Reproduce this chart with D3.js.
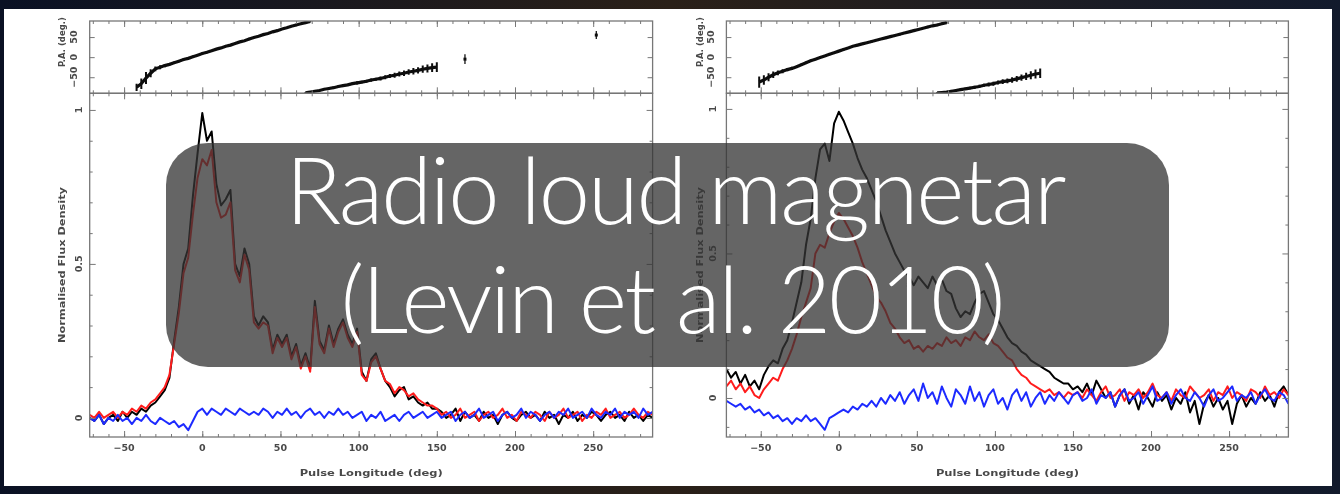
<!DOCTYPE html>
<html>
<head>
<meta charset="utf-8">
<script src="https://cdn.jsdelivr.net/npm/d3@7"></script>
<style>
  html, body { margin: 0; padding: 0; background: #0c1224; }
  svg { display: block; }
</style>
</head>
<body>
<svg id="chart" width="1340" height="494"></svg>
<script>
/* Two pulse profiles (I / L / V) with position-angle swings, plus a slide caption on top */

// longitude bins, every 3 deg from -72 to 288
const lonBins = d3.range(-72, 289, 3);

// left figure: total intensity, linear, circular (normalised)
const leftI = [0.00,-0.01,0.01,-0.02,0.00,0.01,-0.01,0.02,0.00,0.02,0.01,0.03,0.02,0.04,0.05,0.07,0.09,0.13,0.25,0.36,
  0.50,0.55,0.72,0.86,0.99,0.90,0.93,0.76,0.69,0.71,0.74,0.50,0.46,0.55,0.50,0.33,0.30,0.33,0.31,0.22,
  0.27,0.24,0.27,0.20,0.24,0.17,0.21,0.16,0.38,0.25,0.22,0.30,0.24,0.29,0.32,0.27,0.24,0.29,0.15,0.12,
  0.19,0.21,0.16,0.12,0.10,0.07,0.09,0.10,0.06,0.07,0.05,0.04,0.05,0.03,0.03,
  0.02,0.00,0.01,0.03,-0.01,0.02,0.00,0.01,-0.01,0.02,0.00,0.01,-0.02,0.01,0.02,0.00,-0.01,0.01,0.02,0.00,
  0.01,-0.01,0.02,0.00,0.01,-0.02,0.01,0.00,0.02,-0.01,0.01,0.00,0.02,0.01,-0.01,0.01,0.02,0.00,0.01,-0.01,
  0.02,0.00,0.01,-0.01,0.01,0.00];
const leftL = [0.01,0.00,0.02,0.00,0.01,0.02,0.00,0.02,0.01,0.03,0.02,0.04,0.03,0.05,0.06,0.08,0.10,0.14,0.24,0.34,
  0.47,0.52,0.66,0.78,0.84,0.82,0.87,0.70,0.65,0.66,0.70,0.48,0.44,0.53,0.48,0.31,0.29,0.31,0.30,0.21,
  0.26,0.23,0.26,0.19,0.23,0.16,0.20,0.15,0.36,0.24,0.21,0.29,0.23,0.28,0.31,0.26,0.23,0.28,0.14,0.12,
  0.18,0.20,0.16,0.12,0.11,0.08,0.10,0.09,0.07,0.08,0.06,0.05,0.04,0.04,0.03,
  0.01,0.02,0.00,0.01,0.03,0.00,0.01,0.02,-0.01,0.01,0.02,0.00,0.01,0.03,0.00,0.01,-0.01,0.02,0.01,0.00,
  0.02,0.01,-0.01,0.02,0.00,0.01,0.03,0.00,0.01,0.02,-0.01,0.01,0.00,0.02,0.01,0.03,0.00,0.01,0.02,0.00,
  0.01,0.03,0.01,0.00,0.02,0.01];
const leftV = [0.00,-0.01,0.01,-0.02,0.00,-0.01,0.01,-0.01,0.00,-0.02,0.00,-0.01,0.01,-0.01,-0.02,0.00,-0.01,-0.02,-0.01,
  -0.03,-0.02,-0.04,-0.01,0.02,0.03,0.01,0.03,0.02,0.01,0.03,0.02,0.01,0.03,0.02,0.01,
  0.02,0.01,0.03,0.02,0.00,0.02,0.01,0.03,0.01,0.02,0.00,0.02,0.03,0.01,0.02,0.00,0.02,0.01,0.03,0.01,
  0.02,0.00,0.01,0.02,-0.01,0.01,0.00,0.02,-0.01,0.00,0.01,-0.01,0.01,0.02,0.00,0.01,0.02,0.00,0.01,0.02,
  0.00,0.01,0.02,-0.01,0.01,0.02,0.00,0.01,0.03,0.00,0.01,0.02,-0.01,0.01,0.02,0.00,0.01,0.03,0.00,0.02,
  0.01,-0.01,0.01,0.02,0.00,0.02,0.01,0.03,0.00,0.01,0.02,0.00,0.03,0.01,0.00,0.02,0.01,0.03,0.00,0.02,
  0.01,0.02,0.00,0.03,0.01,0.02];

// right figure
const rightI = [0.10,0.07,0.09,0.05,0.08,0.04,0.06,0.03,0.08,0.11,0.13,0.12,0.17,0.20,0.26,0.33,0.40,0.53,0.62,0.76,
  0.86,0.88,0.82,0.95,0.99,0.96,0.92,0.88,0.83,0.79,0.76,0.72,0.68,0.63,0.58,0.54,0.50,0.47,0.44,0.42,
  0.39,0.42,0.40,0.38,0.42,0.39,0.41,0.37,0.36,0.31,0.28,0.30,0.29,0.33,0.36,0.37,0.33,0.29,0.27,0.24,
  0.21,0.19,0.18,0.16,0.15,0.13,0.12,0.11,0.10,0.09,0.07,0.06,0.05,0.05,0.03,
  0.04,0.02,0.05,0.01,0.06,0.03,0.00,0.02,-0.03,0.01,0.03,-0.02,0.01,-0.04,0.02,0.00,-0.03,0.02,-0.01,0.01,
  -0.04,0.00,-0.02,0.02,-0.05,-0.01,-0.09,-0.02,0.01,-0.03,0.00,-0.04,-0.01,-0.09,-0.02,0.01,-0.03,0.00,-0.02,0.02,
  -0.01,0.01,-0.03,0.02,0.04,0.01];
const rightL = [0.04,0.06,0.03,0.05,0.02,0.04,0.01,0.00,0.03,0.05,0.07,0.06,0.10,0.13,0.17,0.22,0.28,0.33,0.38,0.50,
  0.53,0.52,0.57,0.61,0.64,0.62,0.59,0.56,0.52,0.47,0.43,0.39,0.35,0.33,0.30,0.26,0.24,0.21,0.19,0.20,
  0.17,0.18,0.16,0.18,0.17,0.19,0.18,0.21,0.19,0.20,0.18,0.21,0.20,0.23,0.21,0.20,0.22,0.19,0.18,0.16,
  0.14,0.13,0.10,0.08,0.07,0.05,0.04,0.03,0.02,0.03,0.01,0.02,0.00,0.02,0.01,
  0.02,0.00,0.03,0.01,-0.01,0.02,0.04,0.00,0.01,0.03,-0.01,0.02,0.01,0.03,0.00,0.02,0.05,0.01,0.00,0.02,
  -0.01,0.03,0.01,0.00,0.04,0.02,0.00,0.01,0.03,-0.01,0.02,0.01,0.04,0.00,0.02,0.01,-0.01,0.03,0.02,0.00,
  0.04,0.01,0.02,0.00,0.03,0.01];
const rightV = [-0.01,-0.02,-0.03,-0.02,-0.04,-0.03,-0.05,-0.04,-0.06,-0.05,-0.07,-0.06,-0.08,-0.07,-0.09,-0.07,-0.08,-0.06,-0.08,-0.07,
  -0.09,-0.11,-0.07,-0.06,-0.05,-0.04,-0.05,-0.03,-0.04,-0.02,-0.03,-0.01,-0.03,0.00,-0.02,0.01,-0.01,0.02,-0.02,0.01,
  0.03,-0.01,0.05,0.00,0.02,-0.02,0.04,0.00,-0.03,0.03,0.01,-0.02,0.04,-0.01,0.02,-0.03,0.01,0.03,-0.02,0.00,
  -0.04,0.01,0.03,-0.01,0.02,-0.03,0.00,0.02,-0.02,0.01,-0.01,0.02,0.00,-0.02,0.01,
  0.02,-0.01,0.00,0.03,-0.02,0.01,0.00,0.02,-0.03,0.01,0.03,-0.01,0.00,0.02,-0.02,0.01,0.04,-0.01,0.00,0.02,
  -0.02,0.01,0.03,0.00,-0.01,0.02,0.00,-0.03,0.01,0.03,-0.01,0.00,0.02,0.04,-0.01,0.01,0.00,0.02,-0.02,0.01,
  0.03,0.00,-0.01,0.02,0.01,-0.02];

// position angle tracks (deg), two wrapped segments each
const paLeftLon1 = [-42,-39,-36,-33,-30,-27,-24,-21,-18,-15,-12,-9,-6,-3,0,3,6,9,12,15,18,21,24,27,30,33,36,39,42,45,48,51,54,57,60,63,66,69];
const paLeftVal1 = [-75,-66,-52,-40,-29,-25,-21,-18,-14,-10,-6,-3,1,5,9,12,16,20,23,27,30,34,38,41,45,49,52,56,59,63,66,70,73,77,80,83,86,89];
const paLeftErr1 = [9,13,15,10,6,5,4,3,3,3,3,2,3,2,3,2,2,3,2,2,3,2,2,2,3,2,2,2,2,3,2,2,2,2,3,2,2,2];
const paLeftLon2 = [66,69,72,75,78,81,84,87,90,93,96,99,102,105,108,111,114,117,120,123,126,129,132,135,138,141,144,147,150];
const paLeftVal2 = [-89,-87,-85,-83,-80,-78,-76,-73,-71,-69,-66,-64,-62,-60,-57,-55,-53,-50,-47,-45,-42,-40,-37,-35,-33,-30,-28,-26,-25];
const paLeftErr2 = [2,2,2,2,2,3,2,3,3,3,3,4,3,4,4,4,5,5,5,6,6,7,7,8,8,9,10,11,12];
const paLeftDotLon = [168, 252];
const paLeftDotVal = [-5, 55];
const paLeftDotErr = [12, 10];

const paRightLon1 = [-51,-48,-45,-42,-39,-36,-33,-30,-27,-24,-21,-18,-15,-12,-9,-6,-3,0,3,6,9,12,15,18,21,24,27,30,33,36,39,42,45,48,51,54,57,60,63,66,69];
const paRightVal1 = [-62,-57,-50,-44,-39,-35,-31,-28,-24,-19,-14,-9,-5,-1,3,7,11,15,19,23,27,30,33,36,39,42,45,48,51,54,57,60,63,66,69,72,75,78,80,83,86];
const paRightErr1 = [14,12,10,8,6,5,4,4,3,3,3,3,3,3,2,3,2,2,3,2,2,3,2,2,3,2,2,3,2,2,3,2,2,3,2,2,3,2,3,3,3];
const paRightLon2 = [63,66,69,72,75,78,81,84,87,90,93,96,99,102,105,108,111,114,117,120,123,126,129];
const paRightVal2 = [-89,-88,-87,-85,-83,-81,-79,-77,-75,-73,-70,-68,-66,-63,-61,-59,-57,-54,-51,-48,-45,-42,-40];
const paRightErr2 = [2,2,2,3,3,3,3,3,4,4,4,5,5,5,6,6,7,7,8,9,10,11,12];

// axis ticks and labels
const lonMajor = [-50, 0, 50, 100, 150, 200, 250];
const lonMinor = d3.range(-70, 289, 10);
const fluxMajor = [0, 0.5, 1];
const fluxMinor = [-0.1, 0.1, 0.2, 0.3, 0.4, 0.6, 0.7, 0.8, 0.9];
const paMajor = [-50, 0, 50];
const captionLines = ["Radio loud magnetar", "(Levin et al. 2010)"];

const svg = d3.select("#chart");
const defs = svg.append("defs");

// slide background
const bg = defs.append("linearGradient").attr("id", "bgGrad").attr("x1", 0).attr("x2", 1);
bg.append("stop").attr("offset", "0%").attr("stop-color", "#0a1124");
bg.append("stop").attr("offset", "50%").attr("stop-color", "#2a2018");
bg.append("stop").attr("offset", "100%").attr("stop-color", "#121a2c");
svg.append("rect").attr("width", 1340).attr("height", 494).attr("fill", "url(#bgGrad)");
svg.append("rect").attr("x", 4).attr("y", 9).attr("width", 1328).attr("height", 477).attr("fill", "#fff");

defs.append("filter").attr("id", "soft")
  .append("feGaussianBlur").attr("stdDeviation", 0.65);

const PA_TOP = 21, PA_BOT = 93.3, MAIN_BOT = 437;

const panels = [
  { id: "L", x0: 89.7, x1: 652.6, fluxDomain: [-0.062, 1.054], I: leftI, L: leftL, V: leftV,
    tickX: 79, paTickX: 74, labelX: 62,
    pa: [[paLeftLon1, paLeftVal1, paLeftErr1], [paLeftLon2, paLeftVal2, paLeftErr2]],
    dots: [paLeftDotLon, paLeftDotVal, paLeftDotErr] },
  { id: "R", x0: 726.4, x1: 1288.4, fluxDomain: [-0.135, 1.054], I: rightI, L: rightL, V: rightV,
    tickX: 713, paTickX: 711, labelX: 700,
    pa: [[paRightLon1, paRightVal1, paRightErr1], [paRightLon2, paRightVal2, paRightErr2]],
    dots: [[], [], []] }
];

const axisFont = "DejaVu Sans, sans-serif";
const inkGray = "#4a4a4a";

panels.forEach(drawPanel);

function drawPanel(p) {
  const x = d3.scaleLinear().domain([-72, 288]).range([p.x0, p.x1]);
  const yPA = d3.scaleLinear().domain([-90, 90]).range([PA_BOT, PA_TOP]);
  const yF = d3.scaleLinear().domain(p.fluxDomain).range([MAIN_BOT, PA_BOT]);
  const inFlux = v => v >= p.fluxDomain[0] && v <= p.fluxDomain[1];

  const g = svg.append("g").attr("filter", "url(#soft)");

  defs.append("clipPath").attr("id", "clipPA" + p.id)
    .append("rect").attr("x", p.x0).attr("y", PA_TOP).attr("width", p.x1 - p.x0).attr("height", PA_BOT - PA_TOP);
  defs.append("clipPath").attr("id", "clipF" + p.id)
    .append("rect").attr("x", p.x0).attr("y", PA_BOT).attr("width", p.x1 - p.x0).attr("height", MAIN_BOT - PA_BOT);

  // profiles
  const fg = g.append("g").attr("clip-path", `url(#clipF${p.id})`);
  const line = d3.line().x((d, i) => x(lonBins[i])).y(d => yF(d));
  [[p.I, "#000"], [p.L, "#ff1f1f"], [p.V, "#1f2bff"]].forEach(([vals, col]) => {
    fg.append("path").datum(vals).attr("d", line)
      .attr("fill", "none").attr("stroke", col).attr("stroke-width", 2).attr("stroke-linejoin", "round");
  });

  // position angle
  const pg = g.append("g").attr("clip-path", `url(#clipPA${p.id})`);
  p.pa.forEach(([lons, vals, errs]) => {
    const pts = lons.map((l, i) => ({ l, v: vals[i], e: errs[i] }));
    pg.append("path").datum(pts)
      .attr("d", d3.line().x(d => x(d.l)).y(d => yPA(d.v)))
      .attr("fill", "none").attr("stroke", "#111").attr("stroke-width", 3.2);
    pg.selectAll(null).data(pts).enter().append("line")
      .attr("x1", d => x(d.l)).attr("x2", d => x(d.l))
      .attr("y1", d => yPA(d.v - d.e)).attr("y2", d => yPA(d.v + d.e))
      .attr("stroke", "#111").attr("stroke-width", 2);
  });
  const dots = p.dots[0].map((l, i) => ({ l, v: p.dots[1][i], e: p.dots[2][i] }));
  pg.selectAll(null).data(dots).enter().append("line")
    .attr("x1", d => x(d.l)).attr("x2", d => x(d.l))
    .attr("y1", d => yPA(d.v - d.e)).attr("y2", d => yPA(d.v + d.e))
    .attr("stroke", "#222").attr("stroke-width", 1.4);
  pg.selectAll(null).data(dots).enter().append("rect")
    .attr("x", d => x(d.l) - 1.5).attr("y", d => yPA(d.v) - 1.5).attr("width", 3).attr("height", 3).attr("fill", "#111");

  // frames
  [[PA_TOP, PA_BOT], [PA_BOT, MAIN_BOT]].forEach(([t, b]) => {
    g.append("rect").attr("x", p.x0).attr("y", t).attr("width", p.x1 - p.x0).attr("height", b - t)
      .attr("fill", "none").attr("stroke", "#777").attr("stroke-width", 1.3);
  });

  // ticks, all pointing inward (pgplot style)
  const ax = g.append("g");
  const addAxis = (axis, tx, ty) => {
    const a = ax.append("g").attr("transform", `translate(${tx},${ty})`).call(axis);
    a.select(".domain").remove();
    a.selectAll("line").attr("stroke", "#777").attr("stroke-width", 1);
  };
  [[lonMinor, 3], [lonMajor, 6]].forEach(([vals, len]) => {
    addAxis(d3.axisBottom(x).tickValues(vals).tickSize(-len).tickFormat(""), 0, MAIN_BOT);
    addAxis(d3.axisTop(x).tickValues(vals).tickSize(-len).tickFormat(""), 0, PA_BOT);
    addAxis(d3.axisBottom(x).tickValues(vals).tickSize(-len).tickFormat(""), 0, PA_BOT);
    addAxis(d3.axisTop(x).tickValues(vals).tickSize(-len).tickFormat(""), 0, PA_TOP);
  });
  [[fluxMinor.filter(inFlux), 3], [fluxMajor, 6]].forEach(([vals, len]) => {
    addAxis(d3.axisLeft(yF).tickValues(vals).tickSize(-len).tickFormat(""), p.x0, 0);
    addAxis(d3.axisRight(yF).tickValues(vals).tickSize(-len).tickFormat(""), p.x1, 0);
  });
  addAxis(d3.axisLeft(yPA).tickValues(paMajor).tickSize(-5).tickFormat(""), p.x0, 0);
  addAxis(d3.axisRight(yPA).tickValues(paMajor).tickSize(-5).tickFormat(""), p.x1, 0);

  // tick labels
  const tl = g.append("g").attr("font-family", axisFont).attr("font-size", 9.5)
    .attr("font-weight", "bold").attr("fill", inkGray);
  tl.selectAll(null).data(lonMajor).enter().append("text")
    .attr("x", d => x(d)).attr("y", 451).attr("text-anchor", "middle")
    .text(d => d < 0 ? "\u2212" + Math.abs(d) : d);
  tl.selectAll(null).data(fluxMajor).enter().append("text")
    .attr("transform", d => `translate(${p.tickX},${yF(d)}) rotate(-90)`)
    .attr("text-anchor", "middle").attr("dy", "0.35em")
    .text(d => d);
  tl.selectAll(null).data(paMajor).enter().append("text")
    .attr("transform", d => `translate(${p.paTickX},${yPA(d)}) rotate(-90)`)
    .attr("text-anchor", "middle").attr("dy", "0.35em")
    .text(d => d < 0 ? "\u2212" + Math.abs(d) : d);

  // axis titles
  const cx = (p.x0 + p.x1) / 2;
  tl.append("text").attr("x", cx).attr("y", 476).attr("text-anchor", "middle")
    .attr("textLength", 143).attr("lengthAdjust", "spacingAndGlyphs")
    .text("Pulse Longitude (deg)");
  tl.append("text").attr("transform", `translate(${p.labelX},265) rotate(-90)`)
    .attr("text-anchor", "middle").attr("dy", "0.35em")
    .attr("textLength", 156).attr("lengthAdjust", "spacingAndGlyphs")
    .text("Normalised Flux Density");
  tl.append("text").attr("transform", `translate(${p.labelX},42) rotate(-90)`)
    .attr("text-anchor", "middle").attr("dy", "0.35em")
    .attr("font-size", 8.5)
    .text("P.A. (deg.)");
}

// caption box over both figures
svg.append("rect").attr("x", 166).attr("y", 143).attr("width", 1003).attr("height", 224)
  .attr("rx", 42).attr("ry", 42).attr("fill", "rgb(52,52,52)").attr("fill-opacity", 0.76);
const cap = svg.append("g").attr("fill", "#fff").attr("font-family", "Lato, 'Open Sans', sans-serif")
  .attr("font-weight", 300).attr("font-size", 92).attr("text-anchor", "middle");
const capSpec = [{ cx: 676, y: 224, w: 781 }, { cx: 673, y: 333, w: 665 }];
captionLines.forEach((t, i) => {
  cap.append("text").attr("x", capSpec[i].cx).attr("y", capSpec[i].y)
    .attr("textLength", capSpec[i].w).attr("lengthAdjust", "spacing").text(t);
});
</script>
</body>
</html>
